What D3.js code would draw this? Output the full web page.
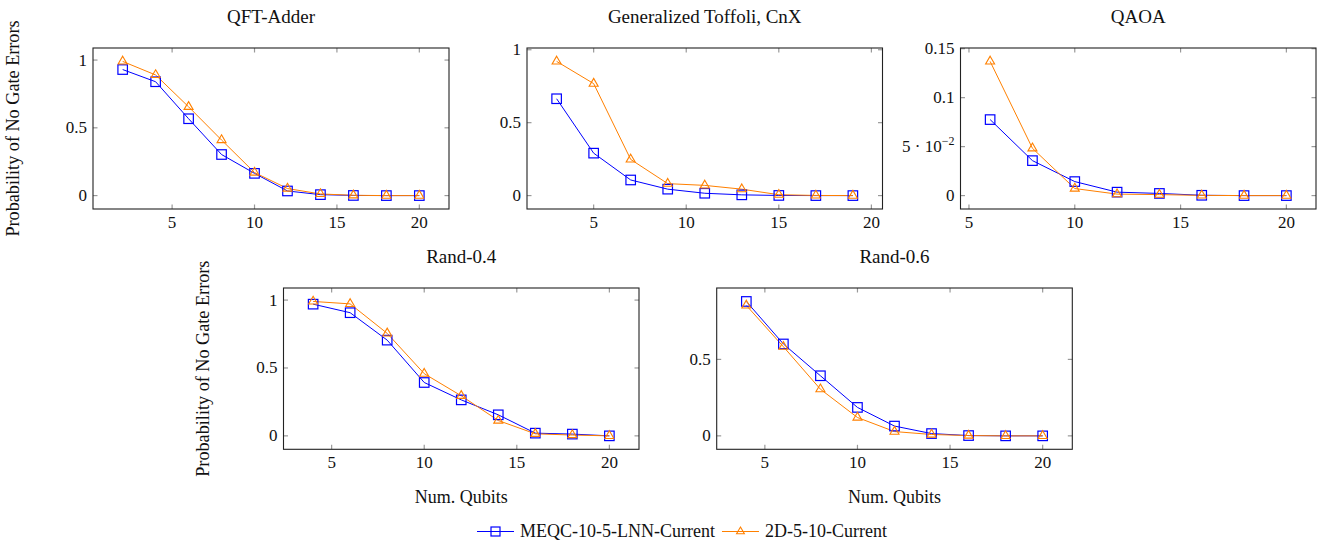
<!DOCTYPE html>
<html><head><meta charset="utf-8">
<script src="https://cdn.jsdelivr.net/npm/d3@7"></script>
<style>body{margin:0;background:#fff}svg{display:block}text{font-family:"Liberation Serif","DejaVu Serif",serif;fill:#111}</style>
</head><body><svg id="c" width="1323" height="546"></svg>
<script>
// ---- data ----
const seriesNames = ["MEQC-10-5-LNN-Current", "2D-5-10-Current"];
const xTicks = [5, 10, 15, 20];

const qftX = [2, 4, 6, 8, 10, 12, 14, 16, 18, 20];
const qftMEQC = [0.93, 0.84, 0.567, 0.303, 0.164, 0.034, 0.007, 0.001, 0, 0];
const qft2D = [0.99, 0.89, 0.655, 0.41, 0.17, 0.052, 0.012, 0.002, 0, 0];

const cnxX = [3, 5, 7, 9, 11, 13, 15, 17, 19];
const cnxMEQC = [0.664, 0.291, 0.107, 0.044, 0.016, 0.005, 0.001, 0, 0];
const cnx2D = [0.92, 0.768, 0.248, 0.082, 0.07, 0.044, 0.006, 0.001, 0];

const qaoaX = [6, 8, 10, 12, 14, 16, 18, 20];
const qaoaMEQC = [0.0776, 0.0357, 0.0143, 0.0035, 0.0022, 0.0003, 0, 0];
const qaoa2D = [0.137, 0.0483, 0.0072, 0.0015, 0.001, 0.0002, 0, 0];

const r04X = [4, 6, 8, 10, 12, 14, 16, 18, 20];
const r04MEQC = [0.97, 0.907, 0.705, 0.393, 0.265, 0.155, 0.02, 0.013, 0];
const r042D = [0.99, 0.972, 0.755, 0.458, 0.295, 0.113, 0.015, 0.006, 0];

const r06X = [4, 6, 8, 10, 12, 14, 16, 18, 20];
const r06MEQC = [0.879, 0.601, 0.393, 0.186, 0.064, 0.015, 0.002, 0, 0];
const r062D = [0.853, 0.583, 0.305, 0.12, 0.028, 0.009, 0.002, 0, 0];

const panels = [
  {title: "QFT-Adder", x: qftX, a: qftMEQC, b: qft2D, yTicks: [0, 0.5, 1], box: [93, 48, 449, 209], ylabel: 18.5, xlabel: false},
  {title: "Generalized Toffoli, CnX", x: cnxX, a: cnxMEQC, b: cnx2D, yTicks: [0, 0.5, 1], box: [527, 48, 882.5, 209]},
  {title: "QAOA", x: qaoaX, a: qaoaMEQC, b: qaoa2D, yTicks: [0, 0.05, 0.1, 0.15], box: [960.5, 48, 1316, 209]},
  {title: "Rand-0.4", x: r04X, a: r04MEQC, b: r042D, yTicks: [0, 0.5, 1], box: [283.5, 288, 639, 449.3], ylabel: 208.5, xlabel: true},
  {title: "Rand-0.6", x: r06X, a: r06MEQC, b: r062D, yTicks: [0, 0.5], box: [716.7, 288, 1072.3, 449.3], xlabel: true}
];

const colA = "#0000ff", colB = "#ff8000";
const svg = d3.select("#c");

function pad(ext) { const r = ext[1] - ext[0]; return [ext[0] - 0.1 * r, ext[1] + 0.1 * r]; }
const sqSide = 9.5, triR = 5.2;
function triPath(cx, cy, r) {
  const c = Math.cos(Math.PI / 6) * r;
  return `M${cx},${cy - r}L${cx + c},${cy + r / 2}L${cx - c},${cy + r / 2}Z`;
}
function fmtY(v, g) {
  if (v === 0.05) {
    g.text("5 · 10");
    g.append("tspan").attr("dy", -7).attr("font-size", 12).text("−2");
  } else g.text(String(v));
}

panels.forEach(p => {
  const [x0, y0, x1, y1] = p.box;
  const xs = d3.scaleLinear().domain(pad(d3.extent(p.x))).range([x0, x1]);
  const yall = p.a.concat(p.b);
  const ys = d3.scaleLinear().domain(pad(d3.extent(yall))).range([y1, y0]);
  const g = svg.append("g");
  const tk = 4.5;
  xTicks.forEach(t => {
    const x = xs(t);
    g.append("line").attr("x1", x).attr("x2", x).attr("y1", y1).attr("y2", y1 - tk).attr("stroke", "#999").attr("stroke-width", 1.2);
    g.append("line").attr("x1", x).attr("x2", x).attr("y1", y0).attr("y2", y0 + tk).attr("stroke", "#999").attr("stroke-width", 1.2);
    g.append("text").attr("x", x).attr("y", y1 + 19).attr("text-anchor", "middle").attr("font-size", 17).text(t);
  });
  p.yTicks.forEach(t => {
    const y = ys(t);
    g.append("line").attr("x1", x0).attr("x2", x0 + tk).attr("y1", y).attr("y2", y).attr("stroke", "#999").attr("stroke-width", 1.2);
    g.append("line").attr("x1", x1).attr("x2", x1 - tk).attr("y1", y).attr("y2", y).attr("stroke", "#999").attr("stroke-width", 1.2);
    const tx = g.append("text").attr("x", x0 - 6).attr("y", y + 5.5).attr("text-anchor", "end").attr("font-size", 17);
    fmtY(t, tx);
  });
  g.append("rect").attr("x", x0).attr("y", y0).attr("width", x1 - x0).attr("height", y1 - y0)
    .attr("fill", "none").attr("stroke", "#222").attr("stroke-width", 1.1);
  g.append("text").attr("x", (x0 + x1) / 2).attr("y", y0 - 25.5).attr("text-anchor", "middle").attr("font-size", 19).text(p.title);

  const line = d3.line().x((d, i) => xs(p.x[i])).y(d => ys(d));
  g.append("path").attr("d", line(p.a)).attr("fill", "none").attr("stroke", colA).attr("stroke-width", 1);
  g.append("path").attr("d", line(p.b)).attr("fill", "none").attr("stroke", colB).attr("stroke-width", 1);
  p.a.forEach((v, i) => {
    g.append("rect").attr("x", xs(p.x[i]) - sqSide / 2).attr("y", ys(v) - sqSide / 2).attr("width", sqSide).attr("height", sqSide)
      .attr("fill", "none").attr("stroke", colA).attr("stroke-width", 1.2);
  });
  p.b.forEach((v, i) => {
    g.append("path").attr("d", triPath(xs(p.x[i]), ys(v), triR)).attr("fill", "none").attr("stroke", colB).attr("stroke-width", 1.1);
  });
  if (p.ylabel) {
    const cy = (y0 + y1) / 2;
    g.append("text").attr("transform", `translate(${p.ylabel},${cy}) rotate(-90)`)
      .attr("text-anchor", "middle").attr("font-size", 18.2).text("Probability of No Gate Errors");
  }
  if (p.xlabel) {
    g.append("text").attr("x", (x0 + x1) / 2).attr("y", 502.5).attr("text-anchor", "middle").attr("font-size", 18).text("Num. Qubits");
  }
});

// legend
const lg = svg.append("g");
let lx = 477;
const ly = 531.5;
seriesNames.forEach((n, i) => {
  const col = i === 0 ? colA : colB;
  lg.append("line").attr("x1", lx).attr("x2", lx + 37).attr("y1", ly).attr("y2", ly).attr("stroke", col).attr("stroke-width", 1);
  if (i === 0) lg.append("rect").attr("x", lx + 18.5 - 4.5).attr("y", ly - 4.5).attr("width", 9).attr("height", 9).attr("fill", "none").attr("stroke", col).attr("stroke-width", 1.2);
  else lg.append("path").attr("d", triPath(lx + 18.5, ly, 4.5)).attr("fill", "none").attr("stroke", col).attr("stroke-width", 1.1);
  const t = lg.append("text").attr("x", lx + 43).attr("y", ly + 5.5).attr("font-size", 18).text(n);
  lx = lx + 43 + t.node().getComputedTextLength() + 7;
});
</script></body></html>
